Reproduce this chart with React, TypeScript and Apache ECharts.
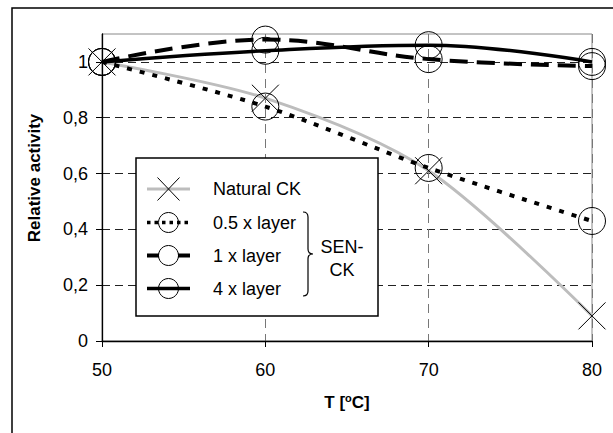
import React, { useEffect, useRef } from 'react';
import * as echarts from 'echarts';

const temperatures = [50, 60, 70, 80];
const seriesNames = ['Natural CK', '0.5 x layer', '1 x layer', '4 x layer'];
const naturalCK = [1.0, 0.87, 0.61, 0.09];
const layer05 = [1.0, 0.84, 0.62, 0.43];
const layer1 = [1.0, 1.08, 1.01, 0.985];
const layer4 = [1.0, 1.04, 1.06, 1.0];
const yTickValues = [0, 0.2, 0.4, 0.6, 0.8, 1];
const groupLabel = ['SEN-', 'CK'];
const xAxisTitle = ['T [', 'o', 'C]'];
const yAxisTitle = 'Relative activity';

const FONT = '"Liberation Sans", Arial, sans-serif';
const X_PATH = 'path://M0,0L10,10M10,0L0,10';

const braceD = 'M0,0 Q5,0 5,5 L5,37 Q5,42 10,42 Q5,42 5,47 L5,79 Q5,84 0,84';

export default function App() {
  const ref = useRef<HTMLDivElement>(null);
  useEffect(() => {
    document.body.style.margin = '0';
    if (!ref.current) return;
    try {
      echarts.graphic.registerShape('brace', echarts.graphic.extendPath(braceD, {}) as any);
    } catch (e) {}
    const chart = echarts.init(ref.current, null, { renderer: 'svg' });
    const pairs = (arr: number[]) => temperatures.map((t, i) => [t, arr[i]]);
    const circleItem = { color: 'rgba(0,0,0,0)', borderColor: '#000', borderWidth: 1 };
    const rowY = [189, 222.5, 255.5, 288.5];
    const legendEls: any[] = [];
    legendEls.push({
      type: 'rect', z: 100,
      shape: { x: 136, y: 158, width: 242, height: 158 },
      style: { fill: '#fff', stroke: '#000', lineWidth: 1.5 },
    });
    // Natural CK
    legendEls.push({ type: 'line', z: 101, shape: { x1: 147, y1: rowY[0], x2: 190, y2: rowY[0] }, style: { stroke: '#bdbdbd', lineWidth: 3 } });
    legendEls.push({ type: 'line', z: 102, shape: { x1: 157.5, y1: rowY[0] - 11.5, x2: 179.5, y2: rowY[0] + 11.5 }, style: { stroke: '#000', lineWidth: 1 } });
    legendEls.push({ type: 'line', z: 102, shape: { x1: 157.5, y1: rowY[0] + 11.5, x2: 179.5, y2: rowY[0] - 11.5 }, style: { stroke: '#000', lineWidth: 1 } });
    // 0.5x
    legendEls.push({ type: 'line', z: 101, shape: { x1: 147, y1: rowY[1], x2: 190, y2: rowY[1] }, style: { stroke: '#000', lineWidth: 3.5, lineDash: [3.5, 4] } });
    // 1x
    legendEls.push({ type: 'line', z: 101, shape: { x1: 147, y1: rowY[2], x2: 159, y2: rowY[2] }, style: { stroke: '#000', lineWidth: 4 } });
    legendEls.push({ type: 'line', z: 101, shape: { x1: 178, y1: rowY[2], x2: 190, y2: rowY[2] }, style: { stroke: '#000', lineWidth: 4 } });
    // 4x
    legendEls.push({ type: 'line', z: 101, shape: { x1: 147, y1: rowY[3], x2: 190, y2: rowY[3] }, style: { stroke: '#000', lineWidth: 3.5 } });
    [1, 2, 3].forEach((i) => {
      legendEls.push({ type: 'circle', z: 102, shape: { cx: 168.5, cy: rowY[i], r: 10 }, style: { fill: 'none', stroke: '#000', lineWidth: 1 } });
    });
    seriesNames.forEach((n, i) => {
      legendEls.push({ type: 'text', z: 103, x: 213, y: rowY[i], style: { text: n, font: `18px ${FONT}`, fill: '#000', verticalAlign: 'middle', align: 'left' } });
    });
    legendEls.push({ type: 'brace', z: 103, x: 303, y: 212, style: { fill: 'none', stroke: '#000', lineWidth: 1.2 } });
    legendEls.push({ type: 'text', z: 103, x: 342, y: 247, style: { text: groupLabel[0], font: `18px ${FONT}`, fill: '#000', align: 'center', verticalAlign: 'middle' } });
    legendEls.push({ type: 'text', z: 103, x: 342, y: 270, style: { text: groupLabel[1], font: `18px ${FONT}`, fill: '#000', align: 'center', verticalAlign: 'middle' } });

    const option: any = {
      animation: false,
      backgroundColor: '#fff',
      grid: { left: 102, right: 21, top: 34, bottom: 92, show: true, borderColor: '#888', borderWidth: 1, backgroundColor: 'transparent' },
      xAxis: {
        type: 'value', min: 50, max: 80, interval: 10,
        axisLine: { lineStyle: { color: '#000', width: 1.3 } },
        axisTick: { show: true, inside: false, length: 6, lineStyle: { color: '#000', width: 1 } },
        axisLabel: { color: '#000', fontSize: 18, fontFamily: FONT, margin: 20 },
        splitLine: { show: true, lineStyle: { color: '#777', width: 1, type: [9, 6] } },
      },
      yAxis: {
        type: 'value', min: 0, max: 1.1, interval: 0.2,
        axisLine: { show: true, lineStyle: { color: '#000', width: 1.3 } },
        axisTick: { show: true, inside: false, length: 6, lineStyle: { color: '#000', width: 1 }, customValues: yTickValues },
        axisLabel: {
          color: '#000', fontSize: 18, fontFamily: FONT, margin: 14, customValues: yTickValues,
          formatter: (v: number) => (v > 1.05 ? '' : String(Math.round(v * 10) / 10).replace('.', ',')),
        },
        splitLine: { show: true, lineStyle: { color: '#222', width: 1, type: [8, 5] } },
      },
      series: [
        {
          name: seriesNames[0], type: 'line', data: pairs(naturalCK), smooth: 0.3,
          symbol: X_PATH, symbolSize: 27, z: 2,
          lineStyle: { color: '#bdbdbd', width: 3 },
          itemStyle: { color: 'none', borderColor: '#000', borderWidth: 1 },
        },
        {
          name: seriesNames[1], type: 'line', data: pairs(layer05), smooth: 0.3,
          symbol: 'circle', symbolSize: 27, z: 3,
          lineStyle: { color: '#000', width: 4, type: [5, 8] },
          itemStyle: circleItem,
        },
        {
          name: seriesNames[2], type: 'line', data: pairs(layer1), smooth: 0.4,
          symbol: 'circle', symbolSize: 27, z: 4,
          lineStyle: { color: '#000', width: 4, type: [18, 9] },
          itemStyle: circleItem,
        },
        {
          name: seriesNames[3], type: 'line', data: pairs(layer4), smooth: 0.4,
          symbol: 'circle', symbolSize: 27, z: 5,
          lineStyle: { color: '#000', width: 3.5 },
          itemStyle: circleItem,
        },
      ],
      graphic: [
        {
          type: 'rect', z: 0, silent: true,
          shape: { x: 12, y: 8, width: 640, height: 460 },
          style: { fill: 'none', stroke: '#000', lineWidth: 1.5 },
        },
        {
          type: 'text', z: 100, x: 34, y: 178, rotation: Math.PI / 2,
          style: { text: yAxisTitle, font: `bold 17px ${FONT}`, fill: '#000', align: 'center', verticalAlign: 'middle' },
        },
        {
          type: 'text', z: 100, x: 347, y: 402,
          style: {
            text: `{a|${xAxisTitle[0]}}{s|${xAxisTitle[1]}}{a|${xAxisTitle[2]}}`,
            align: 'center', verticalAlign: 'middle',
            rich: {
              a: { font: `bold 17px ${FONT}`, fill: '#000', color: '#000' },
              s: { font: `bold 11px ${FONT}`, fill: '#000', color: '#000', verticalAlign: 'top', padding: [0, 0, 9, 0] },
            },
          },
        },
        ...legendEls,
      ],
    };
    chart.setOption(option);
    return () => chart.dispose();
  }, []);
  return <div ref={ref} style={{ width: 613, height: 433 }} />;
}
